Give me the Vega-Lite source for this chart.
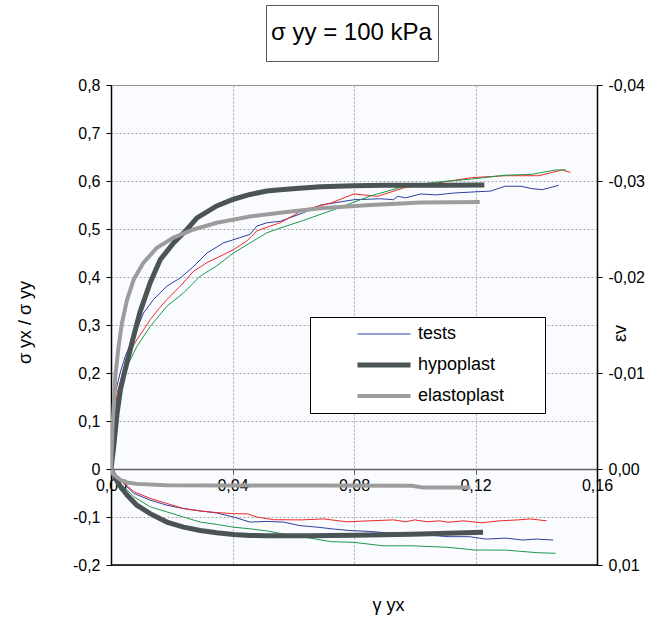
{
  "$schema": "https://vega.github.io/schema/vega-lite/v6.json",
  "width": 486,
  "height": 480,
  "autosize": {"type": "none"},
  "padding": {"left": 111, "top": 85, "right": 60, "bottom": 56},
  "background": "white",
  "config": {
    "font": "Liberation Sans",
    "view": {"stroke": "#808080", "strokeWidth": 1, "fill": "#f9fbfe"}
  },
  "datasets": {
    "stress": [
      {"run": "tests", "g": 0, "v": 0}, {"run": "tests", "g": 0.0003, "v": 0.06}, {"run": "tests", "g": 0.0014, "v": 0.158}, {"run": "tests", "g": 0.003, "v": 0.2}, {"run": "tests", "g": 0.0047, "v": 0.235}, {"run": "tests", "g": 0.0075, "v": 0.276}, {"run": "tests", "g": 0.0107, "v": 0.325}, {"run": "tests", "g": 0.014, "v": 0.353}, {"run": "tests", "g": 0.0184, "v": 0.381}, {"run": "tests", "g": 0.0228, "v": 0.398}, {"run": "tests", "g": 0.0272, "v": 0.422}, {"run": "tests", "g": 0.0316, "v": 0.45}, {"run": "tests", "g": 0.037, "v": 0.471}, {"run": "tests", "g": 0.0425, "v": 0.482}, {"run": "tests", "g": 0.0458, "v": 0.489}, {"run": "tests", "g": 0.048, "v": 0.506}, {"run": "tests", "g": 0.0513, "v": 0.513}, {"run": "tests", "g": 0.0557, "v": 0.516}, {"run": "tests", "g": 0.0634, "v": 0.534}, {"run": "tests", "g": 0.069, "v": 0.55}, {"run": "tests", "g": 0.08, "v": 0.561}, {"run": "tests", "g": 0.0888, "v": 0.563}, {"run": "tests", "g": 0.093, "v": 0.561}, {"run": "tests", "g": 0.0944, "v": 0.568}, {"run": "tests", "g": 0.097, "v": 0.565}, {"run": "tests", "g": 0.102, "v": 0.573}, {"run": "tests", "g": 0.107, "v": 0.571}, {"run": "tests", "g": 0.113, "v": 0.575}, {"run": "tests", "g": 0.1187, "v": 0.577}, {"run": "tests", "g": 0.125, "v": 0.579}, {"run": "tests", "g": 0.1297, "v": 0.589}, {"run": "tests", "g": 0.135, "v": 0.589}, {"run": "tests", "g": 0.1386, "v": 0.584}, {"run": "tests", "g": 0.142, "v": 0.582}, {"run": "tests", "g": 0.1474, "v": 0.591},
      {"run": "tests 2", "g": 0, "v": 0}, {"run": "tests 2", "g": 0.0007, "v": 0.047}, {"run": "tests 2", "g": 0.002, "v": 0.158}, {"run": "tests 2", "g": 0.003, "v": 0.18}, {"run": "tests 2", "g": 0.0053, "v": 0.235}, {"run": "tests 2", "g": 0.0085, "v": 0.269}, {"run": "tests 2", "g": 0.0129, "v": 0.311}, {"run": "tests 2", "g": 0.0151, "v": 0.329}, {"run": "tests 2", "g": 0.0184, "v": 0.353}, {"run": "tests 2", "g": 0.0228, "v": 0.381}, {"run": "tests 2", "g": 0.0272, "v": 0.412}, {"run": "tests 2", "g": 0.0316, "v": 0.43}, {"run": "tests 2", "g": 0.0359, "v": 0.443}, {"run": "tests 2", "g": 0.0403, "v": 0.457}, {"run": "tests 2", "g": 0.0447, "v": 0.475}, {"run": "tests 2", "g": 0.048, "v": 0.496}, {"run": "tests 2", "g": 0.0524, "v": 0.506}, {"run": "tests 2", "g": 0.0557, "v": 0.513}, {"run": "tests 2", "g": 0.0634, "v": 0.54}, {"run": "tests 2", "g": 0.0723, "v": 0.554}, {"run": "tests 2", "g": 0.08, "v": 0.573}, {"run": "tests 2", "g": 0.0877, "v": 0.568}, {"run": "tests 2", "g": 0.0966, "v": 0.586}, {"run": "tests 2", "g": 0.1076, "v": 0.596}, {"run": "tests 2", "g": 0.1187, "v": 0.607}, {"run": "tests 2", "g": 0.1297, "v": 0.611}, {"run": "tests 2", "g": 0.1408, "v": 0.611}, {"run": "tests 2", "g": 0.1485, "v": 0.623}, {"run": "tests 2", "g": 0.1513, "v": 0.618},
      {"run": "tests 3", "g": 0, "v": 0}, {"run": "tests 3", "g": 0.0009, "v": 0.047}, {"run": "tests 3", "g": 0.0025, "v": 0.144}, {"run": "tests 3", "g": 0.0053, "v": 0.214}, {"run": "tests 3", "g": 0.0085, "v": 0.255}, {"run": "tests 3", "g": 0.0129, "v": 0.297}, {"run": "tests 3", "g": 0.0184, "v": 0.339}, {"run": "tests 3", "g": 0.0239, "v": 0.367}, {"run": "tests 3", "g": 0.0294, "v": 0.402}, {"run": "tests 3", "g": 0.0348, "v": 0.423}, {"run": "tests 3", "g": 0.0403, "v": 0.45}, {"run": "tests 3", "g": 0.0458, "v": 0.471}, {"run": "tests 3", "g": 0.0513, "v": 0.492}, {"run": "tests 3", "g": 0.0557, "v": 0.502}, {"run": "tests 3", "g": 0.0634, "v": 0.518}, {"run": "tests 3", "g": 0.0745, "v": 0.543}, {"run": "tests 3", "g": 0.0855, "v": 0.569}, {"run": "tests 3", "g": 0.0966, "v": 0.589}, {"run": "tests 3", "g": 0.1076, "v": 0.598}, {"run": "tests 3", "g": 0.1187, "v": 0.604}, {"run": "tests 3", "g": 0.1297, "v": 0.612}, {"run": "tests 3", "g": 0.1386, "v": 0.614}, {"run": "tests 3", "g": 0.1464, "v": 0.623}, {"run": "tests 3", "g": 0.1497, "v": 0.623},
      {"run": "hypoplast", "g": 0, "v": 0}, {"run": "hypoplast", "g": 0.0009, "v": 0.047}, {"run": "hypoplast", "g": 0.002, "v": 0.116}, {"run": "hypoplast", "g": 0.0031, "v": 0.165}, {"run": "hypoplast", "g": 0.0044, "v": 0.2}, {"run": "hypoplast", "g": 0.0055, "v": 0.228}, {"run": "hypoplast", "g": 0.0075, "v": 0.278}, {"run": "hypoplast", "g": 0.0096, "v": 0.328}, {"run": "hypoplast", "g": 0.0129, "v": 0.388}, {"run": "hypoplast", "g": 0.0162, "v": 0.436}, {"run": "hypoplast", "g": 0.0206, "v": 0.471}, {"run": "hypoplast", "g": 0.025, "v": 0.499}, {"run": "hypoplast", "g": 0.0283, "v": 0.523}, {"run": "hypoplast", "g": 0.0348, "v": 0.548}, {"run": "hypoplast", "g": 0.0403, "v": 0.562}, {"run": "hypoplast", "g": 0.0458, "v": 0.572}, {"run": "hypoplast", "g": 0.0513, "v": 0.579}, {"run": "hypoplast", "g": 0.0557, "v": 0.582}, {"run": "hypoplast", "g": 0.062, "v": 0.585}, {"run": "hypoplast", "g": 0.069, "v": 0.588}, {"run": "hypoplast", "g": 0.08, "v": 0.59}, {"run": "hypoplast", "g": 0.09, "v": 0.591}, {"run": "hypoplast", "g": 0.1, "v": 0.591}, {"run": "hypoplast", "g": 0.11, "v": 0.591}, {"run": "hypoplast", "g": 0.1229, "v": 0.5915},
      {"run": "elastoplast", "g": 0, "v": 0}, {"run": "elastoplast", "g": 0.0004, "v": 0.074}, {"run": "elastoplast", "g": 0.0014, "v": 0.193}, {"run": "elastoplast", "g": 0.0025, "v": 0.255}, {"run": "elastoplast", "g": 0.0036, "v": 0.304}, {"run": "elastoplast", "g": 0.0053, "v": 0.353}, {"run": "elastoplast", "g": 0.0075, "v": 0.395}, {"run": "elastoplast", "g": 0.0107, "v": 0.43}, {"run": "elastoplast", "g": 0.0151, "v": 0.461}, {"run": "elastoplast", "g": 0.0206, "v": 0.482}, {"run": "elastoplast", "g": 0.0272, "v": 0.499}, {"run": "elastoplast", "g": 0.0348, "v": 0.513}, {"run": "elastoplast", "g": 0.0458, "v": 0.526}, {"run": "elastoplast", "g": 0.0557, "v": 0.534}, {"run": "elastoplast", "g": 0.069, "v": 0.543}, {"run": "elastoplast", "g": 0.0855, "v": 0.55}, {"run": "elastoplast", "g": 0.102, "v": 0.555}, {"run": "elastoplast", "g": 0.1214, "v": 0.556}
    ],
    "strain": [
      {"run": "tests", "g": 0, "ev": 0}, {"run": "tests", "g": 0.0031, "ev": 0.00117}, {"run": "tests", "g": 0.0075, "ev": 0.00254}, {"run": "tests", "g": 0.0129, "ev": 0.00324}, {"run": "tests", "g": 0.0184, "ev": 0.00377}, {"run": "tests", "g": 0.0239, "ev": 0.00412}, {"run": "tests", "g": 0.0294, "ev": 0.00437}, {"run": "tests", "g": 0.0348, "ev": 0.00458}, {"run": "tests", "g": 0.0403, "ev": 0.005}, {"run": "tests", "g": 0.0458, "ev": 0.00553}, {"run": "tests", "g": 0.0513, "ev": 0.00546}, {"run": "tests", "g": 0.0568, "ev": 0.00553}, {"run": "tests", "g": 0.0622, "ev": 0.0059}, {"run": "tests", "g": 0.0677, "ev": 0.00605}, {"run": "tests", "g": 0.0732, "ev": 0.00625}, {"run": "tests", "g": 0.0787, "ev": 0.00641}, {"run": "tests", "g": 0.085, "ev": 0.0065}, {"run": "tests", "g": 0.093, "ev": 0.0067}, {"run": "tests", "g": 0.0991, "ev": 0.0069}, {"run": "tests", "g": 0.105, "ev": 0.0069}, {"run": "tests", "g": 0.111, "ev": 0.00705}, {"run": "tests", "g": 0.118, "ev": 0.00705}, {"run": "tests", "g": 0.1234, "ev": 0.0073}, {"run": "tests", "g": 0.13, "ev": 0.0072}, {"run": "tests", "g": 0.1355, "ev": 0.0074}, {"run": "tests", "g": 0.14, "ev": 0.0073}, {"run": "tests", "g": 0.1456, "ev": 0.0074},
      {"run": "tests 2", "g": 0, "ev": 0}, {"run": "tests 2", "g": 0.0031, "ev": 0.00113}, {"run": "tests 2", "g": 0.0075, "ev": 0.00236}, {"run": "tests 2", "g": 0.0129, "ev": 0.00306}, {"run": "tests 2", "g": 0.0184, "ev": 0.00359}, {"run": "tests 2", "g": 0.0239, "ev": 0.00412}, {"run": "tests 2", "g": 0.0294, "ev": 0.00437}, {"run": "tests 2", "g": 0.0348, "ev": 0.00454}, {"run": "tests 2", "g": 0.0403, "ev": 0.00465}, {"run": "tests 2", "g": 0.045, "ev": 0.00468}, {"run": "tests 2", "g": 0.048, "ev": 0.005}, {"run": "tests 2", "g": 0.0535, "ev": 0.00528}, {"run": "tests 2", "g": 0.0628, "ev": 0.0053}, {"run": "tests 2", "g": 0.07, "ev": 0.0052}, {"run": "tests 2", "g": 0.0776, "ev": 0.0055}, {"run": "tests 2", "g": 0.085, "ev": 0.0054}, {"run": "tests 2", "g": 0.093, "ev": 0.0053}, {"run": "tests 2", "g": 0.097, "ev": 0.0055}, {"run": "tests 2", "g": 0.1, "ev": 0.0053}, {"run": "tests 2", "g": 0.104, "ev": 0.0055}, {"run": "tests 2", "g": 0.108, "ev": 0.0054}, {"run": "tests 2", "g": 0.111, "ev": 0.00555}, {"run": "tests 2", "g": 0.116, "ev": 0.0054}, {"run": "tests 2", "g": 0.122, "ev": 0.0056}, {"run": "tests 2", "g": 0.128, "ev": 0.0054}, {"run": "tests 2", "g": 0.134, "ev": 0.0053}, {"run": "tests 2", "g": 0.138, "ev": 0.0052}, {"run": "tests 2", "g": 0.1434, "ev": 0.0054},
      {"run": "tests 3", "g": 0, "ev": 0}, {"run": "tests 3", "g": 0.0031, "ev": 0.00148}, {"run": "tests 3", "g": 0.0075, "ev": 0.00289}, {"run": "tests 3", "g": 0.0129, "ev": 0.00394}, {"run": "tests 3", "g": 0.0184, "ev": 0.00447}, {"run": "tests 3", "g": 0.0239, "ev": 0.005}, {"run": "tests 3", "g": 0.0294, "ev": 0.00553}, {"run": "tests 3", "g": 0.0348, "ev": 0.00577}, {"run": "tests 3", "g": 0.0403, "ev": 0.00606}, {"run": "tests 3", "g": 0.0458, "ev": 0.00623}, {"run": "tests 3", "g": 0.0513, "ev": 0.00645}, {"run": "tests 3", "g": 0.0555, "ev": 0.0067}, {"run": "tests 3", "g": 0.0628, "ev": 0.00705}, {"run": "tests 3", "g": 0.0725, "ev": 0.00757}, {"run": "tests 3", "g": 0.08, "ev": 0.00764}, {"run": "tests 3", "g": 0.0895, "ev": 0.008}, {"run": "tests 3", "g": 0.0991, "ev": 0.008}, {"run": "tests 3", "g": 0.111, "ev": 0.00816}, {"run": "tests 3", "g": 0.1198, "ev": 0.00844}, {"run": "tests 3", "g": 0.13, "ev": 0.00845}, {"run": "tests 3", "g": 0.1404, "ev": 0.00872}, {"run": "tests 3", "g": 0.1464, "ev": 0.00878},
      {"run": "hypoplast", "g": 0, "ev": 0}, {"run": "hypoplast", "g": 0.0014, "ev": 0.00095}, {"run": "hypoplast", "g": 0.0031, "ev": 0.00183}, {"run": "hypoplast", "g": 0.0053, "ev": 0.00271}, {"run": "hypoplast", "g": 0.0085, "ev": 0.00377}, {"run": "hypoplast", "g": 0.0129, "ev": 0.00465}, {"run": "hypoplast", "g": 0.0184, "ev": 0.00553}, {"run": "hypoplast", "g": 0.0239, "ev": 0.00606}, {"run": "hypoplast", "g": 0.0294, "ev": 0.00641}, {"run": "hypoplast", "g": 0.0348, "ev": 0.00665}, {"run": "hypoplast", "g": 0.0403, "ev": 0.00683}, {"run": "hypoplast", "g": 0.0458, "ev": 0.00692}, {"run": "hypoplast", "g": 0.0513, "ev": 0.00695}, {"run": "hypoplast", "g": 0.065, "ev": 0.00695}, {"run": "hypoplast", "g": 0.08, "ev": 0.0069}, {"run": "hypoplast", "g": 0.0991, "ev": 0.0068}, {"run": "hypoplast", "g": 0.111, "ev": 0.0067}, {"run": "hypoplast", "g": 0.1225, "ev": 0.0066},
      {"run": "elastoplast", "g": 0, "ev": 0}, {"run": "elastoplast", "g": 0.0009, "ev": 0.0006}, {"run": "elastoplast", "g": 0.0031, "ev": 0.00113}, {"run": "elastoplast", "g": 0.0053, "ev": 0.0014}, {"run": "elastoplast", "g": 0.0085, "ev": 0.00155}, {"run": "elastoplast", "g": 0.0184, "ev": 0.00169}, {"run": "elastoplast", "g": 0.0403, "ev": 0.00173}, {"run": "elastoplast", "g": 0.07, "ev": 0.00173}, {"run": "elastoplast", "g": 0.0991, "ev": 0.00174}, {"run": "elastoplast", "g": 0.1028, "ev": 0.00194}, {"run": "elastoplast", "g": 0.1183, "ev": 0.00194}
    ]
  },
  "layer": [
    {
      "data": {"name": "stress"},
      "mark": {"type": "line", "clip": true},
      "encoding": {
        "x": {
          "field": "g", "type": "quantitative",
          "scale": {"domain": [0, 0.16], "nice": false, "zero": false},
          "axis": {
            "values": [0, 0.04, 0.08, 0.12, 0.16],
            "offset": -96,
            "labelExpr": "replace(format(datum.value, '.2f'), '.', ',')",
            "labelFontSize": 16, "labelColor": "black", "labelPadding": 3,
            "labelOverlap": false, "labelBound": false, "labelFlush": false,
            "domainColor": "#606060", "domainWidth": 1.5,
            "tickColor": "#606060", "tickSize": 5,
            "grid": true, "gridColor": "#a8a8a8", "gridDash": [2, 2], "gridWidth": 1,
            "title": "γ yx", "titleFontSize": 18, "titleFontWeight": "normal", "titleColor": "black",
            "titleX": 277, "titleY": 136, "titleBaseline": "middle"
          }
        },
        "y": {
          "field": "v", "type": "quantitative",
          "scale": {"domain": [-0.2, 0.8], "nice": false, "zero": false},
          "axis": {
            "orient": "left",
            "values": [-0.2, -0.1, 0, 0.1, 0.2, 0.3, 0.4, 0.5, 0.6, 0.7, 0.8],
            "labelExpr": "datum.value == 0 ? '0' : replace(replace(format(datum.value, '.1f'), '.', ','), '−', '-')",
            "labelFontSize": 16, "labelColor": "black", "labelPadding": 6,
            "labelOverlap": false, "labelBound": false, "labelFlush": false,
            "domainColor": "black", "domainWidth": 1.5,
            "tickColor": "black", "tickSize": 5,
            "grid": true, "gridColor": "#a8a8a8", "gridDash": [2, 2], "gridWidth": 1,
            "title": "σ yx / σ yy", "titleFontSize": 18, "titleFontWeight": "normal", "titleColor": "black",
            "titleX": -86, "titleY": 237, "titleAngle": -90, "titleBaseline": "middle", "titleAlign": "center"
          }
        },
        "color": {
          "field": "run", "type": "nominal",
          "scale": {
            "domain": ["tests", "hypoplast", "elastoplast", "tests 2", "tests 3"],
            "range": ["#2f3f9f", "#4b5454", "#9c9c9c", "#f02828", "#1a9a4a"]
          },
          "legend": {
            "values": ["tests", "hypoplast", "elastoplast"],
            "title": "MMM", "titleOrient": "right", "titleOpacity": 0, "titleFontSize": 11, "titlePadding": 5,
            "orient": "none", "legendX": 199, "legendY": 232,
            "fillColor": "white", "strokeColor": "black",
            "padding": 8, "symbolOffset": 37,
            "symbolType": "stroke", "symbolSize": 2809,
            "clipHeight": 18, "rowPadding": 13,
            "labelFontSize": 18, "labelColor": "black", "labelOffset": 5
          }
        },
        "strokeWidth": {
          "field": "run", "type": "nominal",
          "scale": {
            "type": "ordinal",
            "domain": ["tests", "hypoplast", "elastoplast", "tests 2", "tests 3"],
            "range": [1, 5, 4, 1, 1]
          },
          "legend": {
            "values": ["tests", "hypoplast", "elastoplast"],
            "title": "MMM", "titleOrient": "right", "titleOpacity": 0, "titleFontSize": 11, "titlePadding": 5,
            "orient": "none", "legendX": 199, "legendY": 232,
            "fillColor": "white", "strokeColor": "black",
            "padding": 8, "symbolOffset": 37,
            "symbolType": "stroke", "symbolSize": 2809,
            "clipHeight": 18, "rowPadding": 13,
            "labelFontSize": 18, "labelColor": "black", "labelOffset": 5
          }
        }
      }
    },
    {
      "data": {"name": "strain"},
      "mark": {"type": "line", "clip": true},
      "encoding": {
        "x": {"field": "g", "type": "quantitative"},
        "y": {
          "field": "ev", "type": "quantitative",
          "scale": {"domain": [-0.04, 0.01], "reverse": true, "nice": false, "zero": false},
          "axis": {
            "orient": "right",
            "values": [-0.04, -0.03, -0.02, -0.01, 0, 0.01],
            "labelExpr": "replace(replace(format(datum.value, '.2f'), '.', ','), '−', '-')",
            "labelFontSize": 16, "labelColor": "black", "labelPadding": 6,
            "labelOverlap": false, "labelBound": false, "labelFlush": false,
            "domainColor": "black", "domainWidth": 1.5,
            "tickColor": "black", "tickSize": 5,
            "grid": false,
            "title": "εv", "titleFontSize": 18, "titleFontWeight": "normal", "titleColor": "black",
            "titleX": 23, "titleY": 248, "titleAngle": -90, "titleBaseline": "middle", "titleAlign": "center"
          }
        },
        "color": {
          "field": "run", "type": "nominal",
          "scale": {
            "domain": ["tests", "hypoplast", "elastoplast", "tests 2", "tests 3"],
            "range": ["#2f3f9f", "#4b5454", "#9c9c9c", "#f02828", "#1a9a4a"]
          }
        },
        "strokeWidth": {
          "field": "run", "type": "nominal",
          "scale": {
            "type": "ordinal",
            "domain": ["tests", "hypoplast", "elastoplast", "tests 2", "tests 3"],
            "range": [1, 5, 4, 1, 1]
          }
        }
      }
    },
    {
      "data": {"values": [{"b": -0.2, "t": "σ yy = 100 kPa"}]},
      "mark": {"type": "rule", "color": "black", "strokeWidth": 1.5},
      "encoding": {
        "y": {
          "field": "b", "type": "quantitative",
          "scale": {"domain": [-0.2, 0.8], "nice": false, "zero": false},
          "axis": null
        },
        "opacity": {
          "field": "t", "type": "nominal",
          "scale": {"range": [1, 1]},
          "legend": {
            "title": null,
            "orient": "none", "legendX": 155, "legendY": -80,
            "fillColor": "white", "strokeColor": "#5a5a5a",
            "padding": 6, "symbolOffset": 0,
            "symbolType": "stroke", "symbolSize": 0, "symbolStrokeWidth": 0,
            "clipHeight": 44,
            "labelFontSize": 24, "labelColor": "black", "labelOffset": -25,
            "labelFont": "Liberation Sans", "labelLimit": 300
          }
        }
      }
    }
  ],
  "resolve": {"scale": {"y": "independent"}}
}
